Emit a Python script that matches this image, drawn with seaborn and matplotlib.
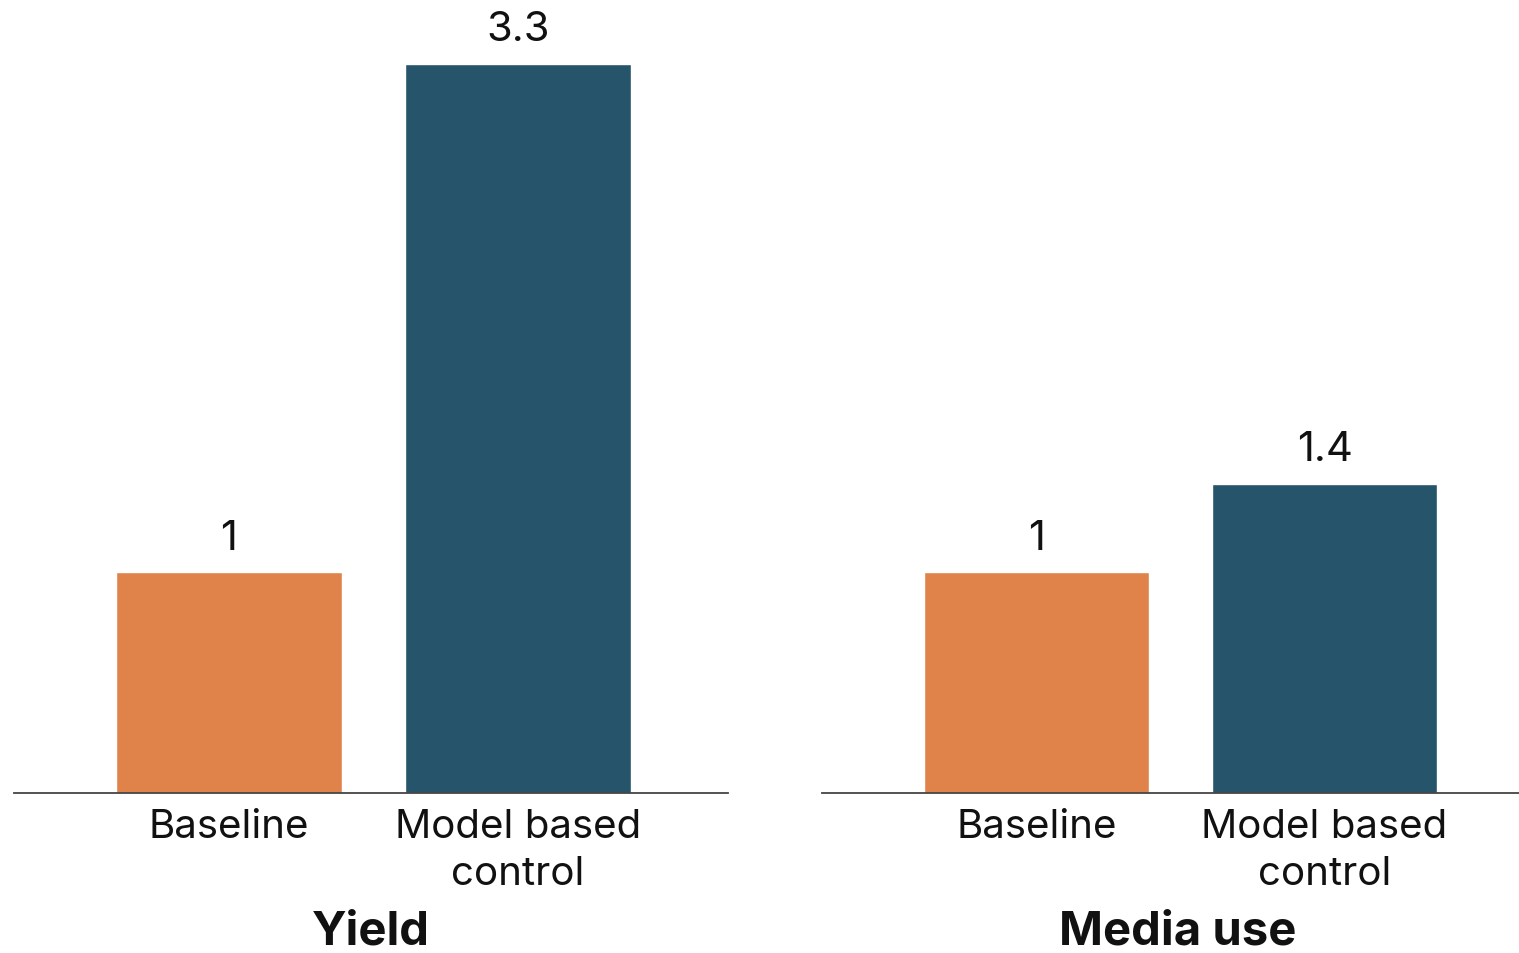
import matplotlib
matplotlib.use("Agg")
import matplotlib.pyplot as plt
import seaborn as sns
import pandas as pd

# Data
categories = ["Baseline", "Model based\ncontrol"]
yield_values = [1, 3.3]
media_values = [1, 1.4]
panel_titles = ["Yield", "Media use"]

colors = ["#E0834A", "#25546B"]

sns.set_theme(style="white")
plt.rcParams["font.family"] = ["Inter", "DejaVu Sans"]

W, H = 1519, 954
fig = plt.figure(figsize=(W / 100, H / 100), dpi=100)

base_y = 794
ymax = 3.5
px_per_unit = 221
top_y = base_y - ymax * px_per_unit


def make_axes(x0, x1):
    return fig.add_axes([x0 / W, (H - base_y) / H, (x1 - x0) / W,
                         (base_y - top_y) / H])


axes = [make_axes(14, 728), make_axes(822, 1534)]

for ax, vals, title in zip(axes, [yield_values, media_values], panel_titles):
    df = pd.DataFrame({"category": categories, "value": vals})
    sns.barplot(data=df, x="category", y="value", hue="category",
                palette=colors, width=0.78, ax=ax, legend=False,
                saturation=1)
    ax.set_ylim(0, ymax)
    ax.set_xlim(-0.744, 1.727)
    for c in ax.containers:
        ax.bar_label(c, fmt="%g", padding=11, fontsize=30, color="#111111")
    for s in ["top", "left", "right"]:
        ax.spines[s].set_visible(False)
    ax.spines["bottom"].set_color("#444444")
    ax.spines["bottom"].set_linewidth(1.3)
    ax.set_yticks([])
    ax.set_ylabel("")
    ax.tick_params(axis="x", length=0, pad=11, labelsize=29,
                   labelcolor="#111111")
    for lbl in ax.get_xticklabels():
        lbl.set_linespacing(1.35)
    ax.set_xlabel(title, fontsize=34, fontweight="bold", color="#111111")
    ax.xaxis.set_label_coords(0.5, -0.151)

fig.savefig("out.png", dpi=100, facecolor="white")
